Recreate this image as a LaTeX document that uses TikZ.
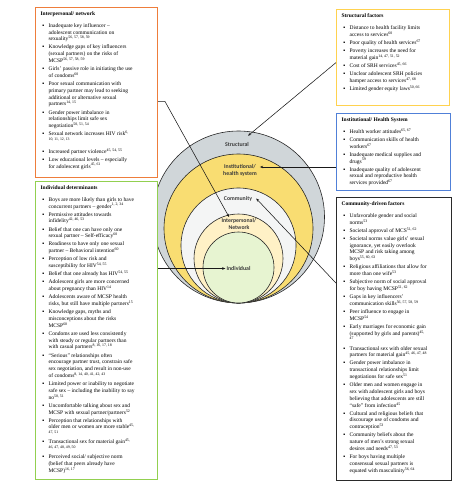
\documentclass[tikz,border=0pt]{standalone}
\usepackage{fontspec}
\setmainfont{Liberation Serif}
\newfontfamily\ringfont{Carlito}[BoldFont={Carlito Bold}]
\usepackage{enumitem}
\usetikzlibrary{arrows.meta}

\definecolor{ringgrey}{HTML}{D0D6D9}
\definecolor{ringgold}{HTML}{F9DD72}
\definecolor{ringwhite}{HTML}{F4F5F5}
\definecolor{ringcream}{HTML}{FFF1C6}
\definecolor{ringgreen}{HTML}{E7F4D1}
\definecolor{boxorange}{HTML}{EE7D3B}
\definecolor{boxgreen}{HTML}{92D050}
\definecolor{boxyellow}{HTML}{FFD24F}
\definecolor{boxblue}{HTML}{5080D8}
\definecolor{boxblack}{HTML}{2A2A2A}
\definecolor{labelgrey}{HTML}{3A3A3A}

\setlist[itemize]{label=▪, leftmargin=8pt, labelsep=4.4pt, rightmargin=-12pt,
  topsep=4.5pt, partopsep=0pt, itemsep=1.3pt, parsep=0pt}

\newcommand{\sref}[1]{\textsuperscript{#1}}
\newcommand{\factorlist}[4]{\parbox[t][#2][t]{#1}{\raggedright\textbf{#3}\par
  \begin{itemize}#4\end{itemize}}}

\begin{document}
\begin{tikzpicture}[x=1pt,y=-1pt,
    factor/.style={draw, line width=1.2pt, fill=white, anchor=north west,
      inner xsep=5pt, inner ysep=4.5pt, font=\fontsize{5.5}{6.8}\selectfont},
    ring/.style={draw=black!85, line width=0.6pt},
    ringlabel/.style={font=\ringfont\bfseries\fontsize{5.8}{7.4}\selectfont,
      text=labelgrey, align=center, inner sep=1pt},
    pointer/.style={draw=black!90, line width=0.55pt,
      -{Stealth[length=3.2pt,width=2.6pt]}}]

    \useasboundingbox[fill=white] (0,0) rectangle (474,489);

    \foreach \r/\c in {86/ringgrey, 74.5/ringgold, 57.5/ringwhite, 44.5/ringcream, 35.5/ringgreen}
        \draw[ring, fill=\c] (238.5,{303-\r}) circle[radius=\r pt];

    \node[ringlabel] (lbl-st) at (237,144) {Structural};
    \node[ringlabel] (lbl-in) at (240,170.5) {Institutional/\\health system};
    \node[ringlabel] (lbl-cm) at (238,198.5) {Community};
    \node[ringlabel] (lbl-ip) at (239,224) {Interpersonal/\\Network};
    \node[ringlabel] (lbl-iv) at (238.5,268.5) {Individual};

    \node[factor, draw=boxorange] (interp) at (35,7) {\factorlist{100pt}{161pt}{Interpersonal/ network}{
        \item Inadequate key influencer –\\ adolescent communication on\\ sexuality\sref{56, 57, 58, 59}
        \item Knowledge gaps of key influencers\\ (sexual partners) on the risks of\\ MCSP\sref{56, 57, 58, 59}
        \item Girls’ passive role in initiating the use\\ of condoms\sref{60}
        \item Poor sexual communication with\\ primary partner may lead to seeking\\ additional or alternative sexual\\ partners\sref{14, 15}
        \item Gender power imbalance in\\ relationships limit safe sex\\ negotiation\sref{50, 51, 54}
        \item Sexual network increases HIV risk\sref{6,}\\ \sref{10, 11, 12, 13}\vspace{2.5pt}
        \item Increased partner violence\sref{45, 54, 55}
        \item Low educational levels – especially\\ for adolescent girls\sref{45, 61}}};

    \node[factor, draw=boxgreen] (indiv) at (35,181) {\factorlist{100pt}{289pt}{Individual determinants}{
        \item Boys are more likely than girls to have\\ concurrent partners – gender\sref{1, 2, 34}
        \item Permissive attitudes towards\\ infidelity\sref{42, 46, 53}
        \item Belief that one can have only one\\ sexual partner – Self-efficacy\sref{60}
        \item Readiness to have only one sexual\\ partner – Behavioral intention\sref{60}
        \item Perception of low risk and\\ susceptibility for HIV\sref{54, 55}
        \item Belief that one already has HIV\sref{54, 55}
        \item Adolescent girls are more concerned\\ about pregnancy than HIV\sref{14}
        \item Adolescents aware of MCSP health\\ risks, but still have multiple partners\sref{15}
        \item Knowledge gaps, myths and\\ misconceptions about the risks\\ MCSP\sref{60}
        \item Condoms are used less consistently\\ with steady or regular partners than\\ with casual partners\sref{8, 16, 17, 18}
        \item “Serious” relationships often\\ encourage partner trust, constrain safe\\ sex negotiation, and result in non-use\\ of condoms\sref{8, 14, 40, 41, 42, 43}
        \item Limited power or inability to negotiate\\ safe sex – including the inability to say\\ no\sref{50, 51}
        \item Uncomfortable talking about sex and\\ MCSP with sexual partner/partners\sref{52}
        \item Perception that relationships with\\ older men or women are more stable\sref{45,}\\ \sref{47, 51}
        \item Transactional sex for material gain\sref{45,}\\ \sref{46, 47, 48, 49, 50}
        \item Perceived social/ subjective norm\\ (belief that peers already have\\ MCSP)\sref{16, 17}}};

    \node[factor, draw=boxyellow] (struct) at (336,9) {\factorlist{91pt}{87pt}{Structural factors}{
        \item Distance to health facility limits\\ access to services\sref{60}
        \item Poor quality of health services\sref{67}
        \item Poverty increases the need for\\ material gain\sref{14, 47, 51, 52}
        \item Cost of SRH services\sref{45, 66}
        \item Unclear adolescent SRH policies\\ hamper access to services\sref{47, 68}
        \item Limited gender equity laws\sref{50, 66}}};

    \node[factor, draw=boxblue] (inst) at (336,113) {\factorlist{92pt}{68pt}{Institutional/ Health System}{
        \item Health worker attitudes\sref{65, 67}
        \item Communication skills of health\\ workers\sref{67}
        \item Inadequate medical supplies and\\ drugs\sref{59}
        \item Inadequate quality of adolescent\\ sexual and reproductive health\\ services provided\sref{67}}};

    \node[factor, draw=boxblack] (comm) at (336,197) {\factorlist{93pt}{274pt}{Community-driven factors}{
        \item Unfavorable gender and social\\ norms\sref{53}
        \item Societal approval of MCS\sref{51, 62}
        \item Societal norms value girls’ sexual\\ ignorance, yet easily overlook\\ MCSP and risk taking among\\ boys\sref{55, 60, 63}
        \item Religious affiliations that allow for\\ more than one wife\sref{53}
        \item Subjective norm of social approval\\ for boy having MCSP\sref{51, 62}
        \item Gaps in key influencers’\\ communication skills\sref{56, 57, 58, 59}
        \item Peer influence to engage in\\ MCSP\sref{54}
        \item Early marriages for economic gain\\ (supported by girls and parents)\sref{45,}\\ \sref{47}
        \item Transactional sex with older sexual\\ partners for material gain\sref{45, 46, 47, 48}
        \item Gender power imbalance in\\ transactional relationships limit\\ negotiations for safe sex\sref{51}
        \item Older men and women engage in\\ sex with adolescent girls and boys\\ believing that adolescents are still\\ “safe” from infection\sref{45}
        \item Cultural and religious beliefs that\\ discourage use of condoms and\\ contraception\sref{53}
        \item Community beliefs about the\\ nature of men’s strong sexual\\ desires and needs\sref{47, 53}
        \item For boys having multiple\\ consensual sexual partners is\\ equated with masculinity\sref{56, 64}}};

    \coordinate (intip) at ([xshift=2pt,yshift=3.5pt]lbl-in.east);

    \draw[pointer] ([yshift=-8.7pt]interp.east) -- ++(6.7,0) -- (lbl-ip.145);
    \draw[pointer] ([yshift=-5pt]struct.west) -- ([xshift=-2pt,yshift=5pt]lbl-st.north east);
    \draw[pointer] (inst.west |- intip) -- (intip);
    \draw[pointer] ([yshift=56pt]comm.west) -- ([xshift=3pt]lbl-cm.east);
    \draw[pointer] (indiv.east |- lbl-iv.west) -- (lbl-iv.west);

\end{tikzpicture}
\end{document}
